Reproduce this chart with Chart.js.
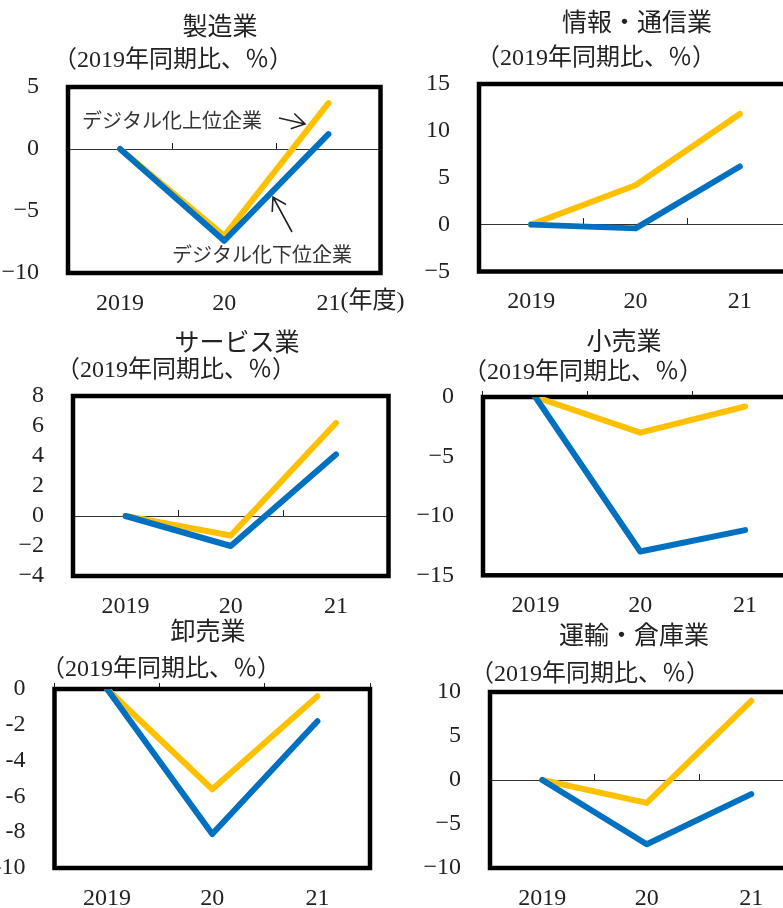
<!DOCTYPE html>
<html lang="ja">
<head>
<meta charset="utf-8">
<script src="https://cdn.jsdelivr.net/npm/chart.js@4.4.0/dist/chart.umd.min.js"></script>
<style>
  html, body { margin: 0; padding: 0; background: #fff; }
  #page { position: relative; width: 783px; height: 908px; overflow: hidden; }
  #page canvas { position: absolute; }
</style>
</head>
<body>
<div id="page"></div>
<script>
// fiscal years on the x axis
const years = ['2019', '20', '21'];

// change vs. same period of 2019 (%), upper = digitalised leaders, lower = laggards
const manufUpper = [0, -7.0, 3.7];
const manufLower = [0, -7.4, 1.2];
const infoUpper = [0, 4.2, 11.8];
const infoLower = [0, -0.4, 6.2];
const serviceUpper = [0, -1.3, 6.2];
const serviceLower = [0, -2.0, 4.1];
const retailUpper = [0, -3.0, -0.8];
const retailLower = [0, -13.0, -11.2];
const wholesaleUpper = [0, -5.6, -0.4];
const wholesaleLower = [0, -8.1, -1.8];
const transportUpper = [0, -2.6, 9.0];
const transportLower = [0, -7.3, -1.6];

// y tick values, bottom to top
const manufTicks = [-10, -5, 0, 5];
const infoTicks = [-5, 0, 5, 10, 15];
const serviceTicks = [-4, -2, 0, 2, 4, 6, 8];
const retailTicks = [-15, -10, -5, 0];
const wholesaleTicks = [-10, -8, -6, -4, -2, 0];
const transportTicks = [-10, -5, 0, 5, 10];

const upperLabel = 'デジタル化上位企業';
const lowerLabel = 'デジタル化下位企業';
const unitText = '（2019年同期比、％）';

const FONT = '"Liberation Serif", "Noto Sans CJK JP", serif';
const YELLOW = '#FFC000';
const BLUE = '#0070C0';
const INK = '#222';

// page layout: box = plot frame [left, top, right, bottom] in page pixels
const panels = [
  { title: '製造業', upper: manufUpper, lower: manufLower, ticks: manufTicks,
    box: [68, 87, 380.5, 273], titleAt: [220, 28], subAt: [53, 61], suffix: '(年度)',
    notes: [
      { text: upperLabel, at: [82, 123], from: [279, 118], to: [305, 124] },
      { text: lowerLabel, at: [172, 257], from: [292, 232], to: [273, 197] }
    ] },
  { title: '情報・通信業', upper: infoUpper, lower: infoLower, ticks: infoTicks,
    box: [479, 84, 792, 271.5], titleAt: [637, 24], subAt: [476, 59] },
  { title: 'サービス業', upper: serviceUpper, lower: serviceLower, ticks: serviceTicks,
    box: [73, 396, 388.5, 576], titleAt: [237, 344], subAt: [56, 371] },
  { title: '小売業', upper: retailUpper, lower: retailLower, ticks: retailTicks,
    box: [483, 397, 797.5, 575.3], titleAt: [624, 343], subAt: [463, 373] },
  { title: '卸売業', upper: wholesaleUpper, lower: wholesaleLower, ticks: wholesaleTicks,
    box: [54.5, 689, 370, 868], titleAt: [208, 633], subAt: [41, 670], minus: '-' },
  { title: '運輸・倉庫業', upper: transportUpper, lower: transportLower, ticks: transportTicks,
    box: [490, 692, 803.5, 868], titleAt: [634, 637], subAt: [470, 675] }
];

// canvases overlap a little; each one is transparent
const COL_X = [-30, 361];
const COL_W = [470, 450];
const ROW_Y = [0, 305, 600];
const Y_AXIS_W = 75;
const X_AXIS_H = 50;
const BOTTOM_PAD = 8;
const X_LABEL_PAD = 8;

function arrow(ctx, from, to) {
  const ang = Math.atan2(to[1] - from[1], to[0] - from[0]);
  const len = 15, spread = 0.55;
  ctx.beginPath();
  ctx.moveTo(from[0], from[1]);
  ctx.lineTo(to[0], to[1]);
  ctx.moveTo(to[0] - len * Math.cos(ang - spread), to[1] - len * Math.sin(ang - spread));
  ctx.lineTo(to[0], to[1]);
  ctx.lineTo(to[0] - len * Math.cos(ang + spread), to[1] - len * Math.sin(ang + spread));
  ctx.stroke();
}

// thick frame round the plot, titles and notes
const panelDecor = {
  id: 'panelDecor',
  beforeDatasetsDraw(chart) {
    const { ctx, chartArea: a } = chart;
    ctx.save();
    ctx.lineWidth = 4.5;
    ctx.strokeStyle = '#000';
    ctx.strokeRect(a.left, a.top, a.right - a.left, a.bottom - a.top);
    ctx.restore();
  },
  afterDraw(chart, args, o) {
    const ctx = chart.ctx;
    const [ox, oy] = o.origin;
    ctx.save();
    ctx.fillStyle = INK;
    ctx.textBaseline = 'middle';
    ctx.textAlign = 'center';
    ctx.font = '25px ' + FONT;
    ctx.fillText(o.title, o.titleAt[0] - ox, o.titleAt[1] - oy);
    ctx.textAlign = 'left';
    ctx.font = '24px ' + FONT;
    ctx.fillText(unitText, o.subAt[0] - ox, o.subAt[1] - oy);

    if (o.suffix) {
      // unit text right after the last year label
      const xs = chart.scales.x;
      const last = years.length - 1;
      ctx.font = '24px ' + FONT;
      const w = ctx.measureText(years[last]).width;
      const y = xs.top + X_LABEL_PAD + 20.4;
      ctx.fillText(o.suffix, xs.getPixelForValue(last) + w / 2, y);
    }

    if (o.notes) {
      ctx.font = '20px ' + FONT;
      ctx.fillStyle = '#333';
      ctx.strokeStyle = '#222';
      ctx.lineWidth = 1.6;
      for (const n of o.notes) {
        ctx.fillText(n.text, n.at[0] - ox, n.at[1] - oy);
        arrow(ctx, [n.from[0] - ox, n.from[1] - oy], [n.to[0] - ox, n.to[1] - oy]);
      }
    }
    ctx.restore();
  }
};

const page = document.getElementById('page');

panels.forEach((p, i) => {
  const ox = COL_X[i % 2];
  const w = COL_W[i % 2];
  const oy = ROW_Y[Math.floor(i / 2)];
  const [L, T, R, B] = p.box;
  const h = Math.ceil(B - oy + X_AXIS_H + BOTTOM_PAD);
  const minus = p.minus || '−';

  const canvas = document.createElement('canvas');
  canvas.width = w;
  canvas.height = h;
  canvas.style.left = ox + 'px';
  canvas.style.top = oy + 'px';
  canvas.style.width = w + 'px';
  canvas.style.height = h + 'px';
  page.appendChild(canvas);

  new Chart(canvas, {
    type: 'line',
    data: {
      labels: years,
      datasets: [
        { label: lowerLabel, data: p.lower, borderColor: BLUE, order: 0, xAxisID: 'x', yAxisID: 'y' },
        { label: upperLabel, data: p.upper, borderColor: YELLOW, order: 1, xAxisID: 'x', yAxisID: 'y' }
      ]
    },
    options: {
      responsive: false,
      animation: false,
      devicePixelRatio: 1,
      layout: {
        padding: {
          left: L - ox - Y_AXIS_W,
          top: T - oy,
          right: ox + w - R,
          bottom: h - (B - oy) - X_AXIS_H
        }
      },
      elements: {
        point: { radius: 0 },
        line: { borderWidth: 6, tension: 0, borderCapStyle: 'round', borderJoinStyle: 'round' }
      },
      plugins: {
        legend: { display: false },
        tooltip: { enabled: false },
        panelDecor: {
          origin: [ox, oy], title: p.title, titleAt: p.titleAt, subAt: p.subAt,
          suffix: p.suffix, notes: p.notes
        }
      },
      scales: {
        x: {
          type: 'category',
          offset: true,
          grid: { display: false },
          border: { display: false },
          ticks: {
            color: INK, font: { family: FONT, size: 24 }, padding: X_LABEL_PAD,
            maxRotation: 0, autoSkip: false
          },
          afterFit(s) { s.height = X_AXIS_H; }
        },
        x0: {
          type: 'category',
          axis: 'x',
          position: { y: 0 },
          offset: true,
          grid: {
            offset: true, drawOnChartArea: false, drawTicks: true,
            tickLength: -7, color: INK, tickColor: INK, lineWidth: 1
          },
          border: { display: true, color: '#333', width: 1 },
          ticks: { display: false }
        },
        y: {
          min: p.ticks[0],
          max: p.ticks[p.ticks.length - 1],
          grid: { display: false },
          border: { display: false },
          ticks: {
            stepSize: p.ticks[1] - p.ticks[0],
            autoSkip: false,
            color: INK, font: { family: FONT, size: 24 }, padding: 21,
            callback: v => (v < 0 ? minus + Math.abs(v) : String(v))
          },
          afterFit(s) { s.width = Y_AXIS_W; }
        }
      }
    },
    plugins: [panelDecor]
  });
});
</script>
</body>
</html>
